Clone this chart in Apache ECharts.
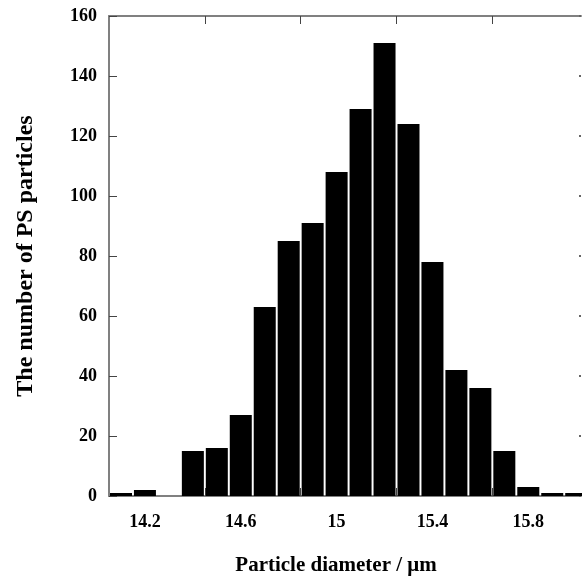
<!DOCTYPE html>
<html>
<head>
<meta charset="utf-8">
<script src="https://cdn.jsdelivr.net/npm/echarts@6/dist/echarts.min.js"></script>
<style>html,body{margin:0;padding:0;background:#fff}#c{width:582px;height:583px}</style>
</head>
<body>
<div id="c"></div>
<script>
var diameters = [14.1,14.2,14.3,14.4,14.5,14.6,14.7,14.8,14.9,15.0,15.1,15.2,15.3,15.4,15.5,15.6,15.7,15.8,15.9,16.0];
var counts    = [1,2,0,15,16,27,63,85,91,108,129,151,124,78,42,36,15,3,1,1];
var xTickLabels = [14.2,14.6,15,15.4,15.8];
var xTickMarks  = [14.45,14.85,15.25,15.65];
var yTicks = [0,20,40,60,80,100,120,140,160];

var font = 'Liberation Serif, Times New Roman, serif';
var axisGray = '#808080';
var data = diameters.map(function(d,i){return [d, counts[i]];});

var chart = echarts.init(document.getElementById('c'));
chart.setOption({
  animation:false,
  backgroundColor:'#fff',
  grid:{left:109,right:1,top:16,bottom:87},
  xAxis:[{
    type:'value', min:14.05, max:16.02, position:'bottom',
    name:'Particle diameter / μm', nameLocation:'middle', nameGap:59,
    nameTextStyle:{fontFamily:font,fontWeight:'bold',fontSize:21,color:'#000',padding:[0,18,0,0]},
    axisLine:{show:true,onZero:false,lineStyle:{color:axisGray,width:2}},
    axisTick:{show:true,inside:true,length:8,customValues:xTickMarks,lineStyle:{color:'#444',width:1}},
    axisLabel:{customValues:xTickLabels,fontFamily:font,fontWeight:'bold',fontSize:18,color:'#000',margin:17,
      formatter:function(v){return String(Math.round(v*10)/10);}},
    splitLine:{show:false}
  },{
    type:'value', min:14.05, max:16.02, position:'top',
    axisLine:{show:true,onZero:false,lineStyle:{color:axisGray,width:2}},
    axisTick:{show:true,inside:true,length:8,customValues:xTickMarks,lineStyle:{color:'#444',width:1}},
    axisLabel:{show:false},
    splitLine:{show:false}
  }],
  yAxis:[{
    type:'value', min:0, max:160, interval:20, position:'left',
    name:'The number of PS particles', nameLocation:'middle', nameGap:71,
    nameTextStyle:{fontFamily:font,fontWeight:'bold',fontSize:24,color:'#000'},
    axisLine:{show:true,lineStyle:{color:axisGray,width:2}},
    axisTick:{show:true,inside:true,length:8,lineStyle:{color:'#444',width:1}},
    axisLabel:{fontFamily:font,fontWeight:'bold',fontSize:18,color:'#000',margin:12,customValues:yTicks},
    splitLine:{show:false}
  },{
    type:'value', min:0, max:160, interval:20, position:'right',
    axisLine:{show:false},
    axisTick:{show:true,inside:true,length:2,lineStyle:{color:'#666',width:2}},
    axisLabel:{show:false},
    splitLine:{show:false}
  }],
  series:[{
    type:'bar', xAxisIndex:0, yAxisIndex:0, data:data, barWidth:22,
    itemStyle:{color:'#000'}, clip:true
  }]
});
</script>
</body>
</html>
